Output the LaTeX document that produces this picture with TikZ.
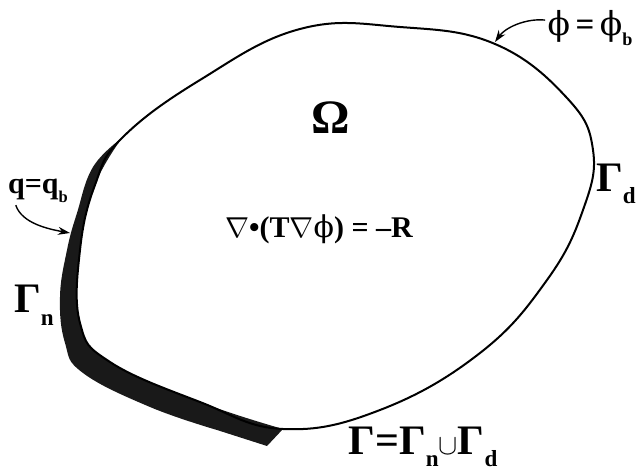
\documentclass[tikz,border=0pt]{standalone}
\usepackage{fontspec}
\setmainfont{Liberation Serif}
\newfontfamily\phifont{DejaVu Serif}
\usetikzlibrary{arrows.meta}
\newcommand{\lowidx}[1]{\raisebox{-0.3em}{\fontsize{0.55em}{0.55em}\selectfont #1}}
\newcommand{\uphi}{{\phifont\mdseries ϕ}}

\begin{document}
\begin{tikzpicture}[x=0.5pt, y=-0.5pt, font=\bfseries, inner sep=1pt]
\useasboundingbox (0,0) rectangle (636,469);
% Neumann part, shaded band
\fill[black!90] plot[smooth, tension=0.7] coordinates {(122,138) (95,185) (80,250) (80,323)
  (110,362) (200,402) (283,429)}
  -- (267,446)
  -- plot[smooth, tension=0.7] coordinates {(217,430) (150,407) (83,373) (65,343) (60,297)
  (67,250) (77,213) (93,167) (122,138)} -- cycle;
% boundary of Omega
\draw[line width=1pt] plot[smooth cycle, tension=0.7] coordinates {
  (283,429) (380,410) (480,353) (547,280) (583,210) (593,150) (567,98)
  (495,44) (400,27) (300,29) (200,80) (122,138) (95,185) (80,250) (80,323)
  (110,362) (200,402)};
% labels
\node (omega) at (331,118) {\fontsize{24}{24}\selectfont Ω};
\node (pde) at (319,229) {\fontsize{15}{15}\selectfont $\nabla$•(T$\nabla$\uphi) = –R};
\node (phi) at (590,28) {\fontsize{16.5}{16.5}\selectfont \uphi\,=\,\uphi\lowidx{b}};
\node (q) at (38,191) {\fontsize{15}{15}\selectfont q=q\lowidx{b}};
\node (gd) at (616,184) {\fontsize{21}{21}\selectfont Γ\lowidx{d}};
\node (gn) at (34,305) {\fontsize{21}{21}\selectfont Γ\lowidx{n}};
\node (gamma) at (423,447) {\fontsize{21}{21}\selectfont Γ=Γ\lowidx{n}{\fontsize{0.75em}{0.75em}\selectfont$\cup$}Γ\lowidx{d}};
% arrows to the boundary
\coordinate (phitip) at (495,42);
\coordinate (qtip) at (70,233);
\draw[-{Stealth[length=6pt,width=4pt]}, line width=0.7pt] (phi.170) .. controls +(-20,-2) and +(10,-14) .. (phitip);
\draw[-{Stealth[length=6pt,width=4pt]}, line width=0.7pt] ([xshift=5pt]q.south west) .. controls +(6,18) and +(-22,-4) .. (qtip);
\end{tikzpicture}
\end{document}
